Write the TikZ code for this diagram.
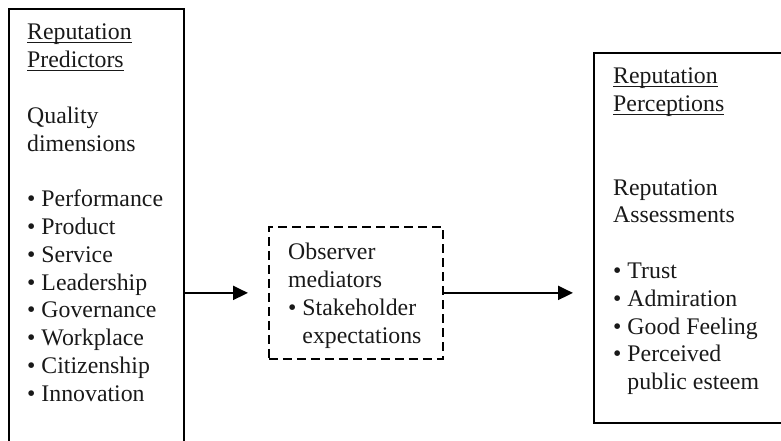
\documentclass[tikz,border=0pt]{standalone}
\usepackage{fontspec}
\setmainfont{Liberation Serif}
\usetikzlibrary{arrows.meta}
\tikzstyle{frame}=[draw, line width=2pt, inner sep=0, anchor=north west]
\tikzstyle{dashed frame}=[frame, line width=1.8pt, dash pattern=on 9pt off 5pt]
\tikzstyle{box text}=[align=left, anchor=north west, inner sep=0, text=black!90, font=\fontsize{23.8}{27.8}\selectfont]
\tikzstyle{flow}=[line width=2pt, -{Triangle[length=15pt, width=14pt]}]
\newcommand{\undl}[1]{\setbox0\hbox{#1}\rlap{\rule[-3.5pt]{\wd0}{1.6pt}}\box0}
\newcommand{\blt}{\textbullet\ }
\newcommand{\nblt}{\hphantom{\textbullet\ }}

\begin{document}
\begin{tikzpicture}[x=1pt, y=-1pt]
          \useasboundingbox (0, 0) rectangle (781, 441);
          \node[frame, minimum width=175pt, minimum height=450pt] (pred) at (8, 8) {};
          \node[dashed frame, minimum width=174pt, minimum height=132pt] (obs) at (268, 226) {};
          \node[frame, minimum width=220pt, minimum height=370pt] (perc) at (593, 52) {};

          \node[box text] (pred_text) at ([xshift=19pt, yshift=-16pt]pred.north west)
            {\undl{Reputation}\\ \undl{Predictors}\\[27.8pt]
             Quality\\ dimensions\\[27.8pt]
             \blt Performance\\ \blt Product\\ \blt Service\\ \blt Leadership\\
             \blt Governance\\ \blt Workplace\\ \blt Citizenship\\ \blt Innovation};
          \node[box text] (obs_text) at ([xshift=20pt, yshift=-17pt]obs.north west)
            {Observer\\ mediators\\ \blt Stakeholder\\ \nblt expectations};
          \node[box text] (perc_text) at ([xshift=20pt, yshift=-16pt]perc.north west)
            {\undl{Reputation}\\ \undl{Perceptions}\\[55.6pt]
             Reputation\\ Assessments\\[27.8pt]
             \blt Trust\\ \blt Admiration\\ \blt Good Feeling\\ \blt Perceived\\
             \nblt public esteem};

          \draw[flow] (pred.east |- obs.west) -- ([xshift=-20pt]obs.west);
          \draw[flow] (obs.east) -- ([xshift=-20pt]perc.west |- obs.east);
        \end{tikzpicture}
\end{document}
